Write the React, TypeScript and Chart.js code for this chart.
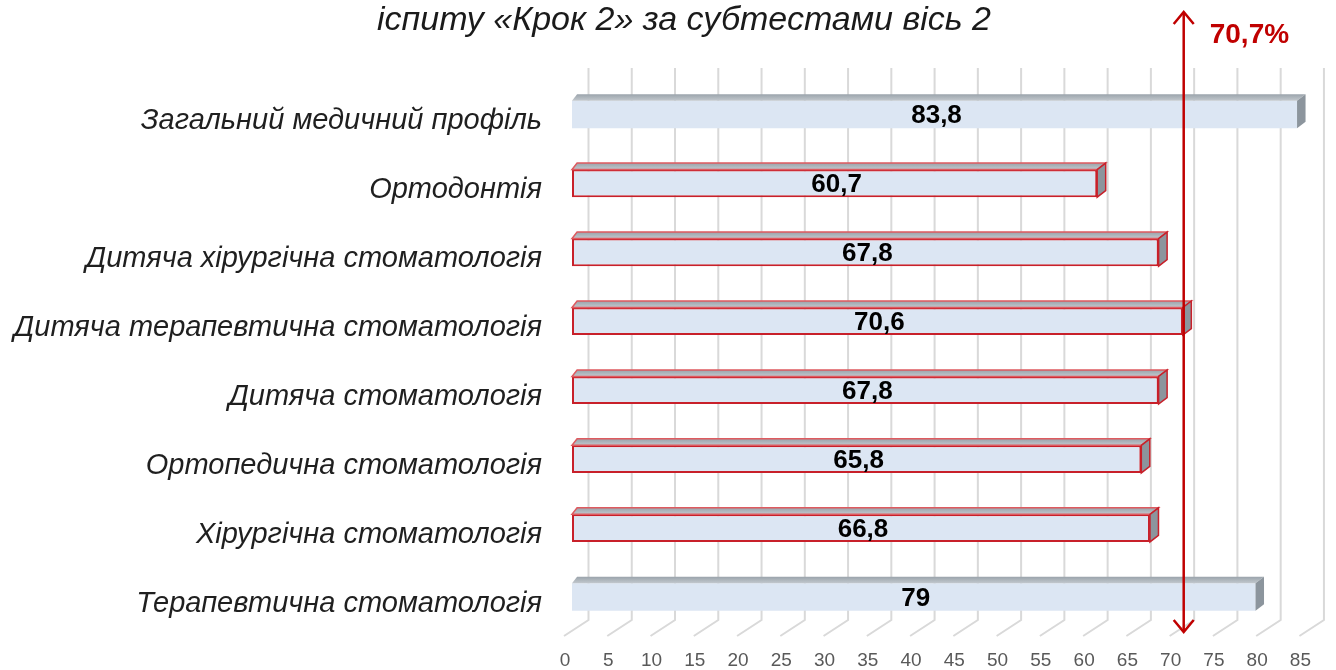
import React, { useEffect, useRef } from 'react';
import { Chart, registerables } from 'chart.js';

Chart.register(...registerables);

const titleText = 'іспиту «Крок 2» за субтестами вісь 2';
const categories = [
  'Загальний медичний профіль',
  'Ортодонтія',
  'Дитяча хірургічна стоматологія',
  'Дитяча терапевтична стоматологія',
  'Дитяча стоматологія',
  'Ортопедична стоматологія',
  'Хірургічна стоматологія',
  'Терапевтична стоматологія',
];
const values = [83.8, 60.7, 67.8, 70.6, 67.8, 65.8, 66.8, 79];
const highlighted = [false, true, true, true, true, true, true, false];
const averageValue = 70.7;
const averageLabel = '70,7%';
const xMin = 0;
const xMax = 85;
const xStep = 5;

const fmt = (v: number) => String(v).replace('.', ',');

const RED = '#c8202a';
const RED_LIGHT = '#de5a5f';
const DX = 8.5;
const DY = 6.5;
const SANS = '"Liberation Sans", Arial, sans-serif';

const threeDPlugin = {
  id: 'threeD',
  beforeDatasetsDraw(chart: any) {
    const ctx = chart.ctx;
    const xs = chart.scales.x;
    const area = chart.chartArea;
    ctx.save();
    ctx.strokeStyle = '#d9d9d9';
    ctx.lineWidth = 2;
    xs.ticks.forEach((t: any) => {
      const px = xs.getPixelForValue(t.value);
      ctx.beginPath();
      ctx.moveTo(px + 16.5, area.top - 12);
      ctx.lineTo(px + 16.5, area.bottom - 11.5);
      ctx.lineTo(px - 8, area.bottom + 4.5);
      ctx.stroke();
    });
    ctx.restore();
  },
  afterDatasetsDraw(chart: any) {
    const ctx = chart.ctx;
    const meta = chart.getDatasetMeta(0);
    const xs = chart.scales.x;
    const ys = chart.scales.y;
    const area = chart.chartArea;
    ctx.save();

    // category labels
    ctx.fillStyle = '#1f1f1f';
    ctx.font = 'italic 29px ' + SANS;
    ctx.textAlign = 'right';
    ctx.textBaseline = 'alphabetic';
    categories.forEach((c, i) => {
      ctx.fillText(c, area.left - 30, ys.getPixelForValue(i) + 15);
    });

    meta.data.forEach((bar: any, i: number) => {
      const p = bar.getProps(['x', 'y', 'base', 'height'], true);
      const x0 = p.base;
      const x1 = p.x;
      const top = p.y - p.height / 2;
      const bottom = p.y + p.height / 2;
      // top face
      const g = ctx.createLinearGradient(0, top - DY, 0, top);
      g.addColorStop(0, '#9aa3ab');
      g.addColorStop(1, '#c2c8cd');
      ctx.beginPath();
      ctx.moveTo(x0, top);
      ctx.lineTo(x1, top);
      ctx.lineTo(x1 + DX, top - DY);
      ctx.lineTo(x0 + DX * 0.6, top - DY);
      ctx.closePath();
      ctx.fillStyle = g;
      ctx.fill();
      if (highlighted[i]) {
        ctx.strokeStyle = RED_LIGHT;
        ctx.lineWidth = 1.5;
        ctx.stroke();
      }
      // side face
      ctx.beginPath();
      ctx.moveTo(x1, top);
      ctx.lineTo(x1 + DX, top - DY);
      ctx.lineTo(x1 + DX, bottom - DY);
      ctx.lineTo(x1, bottom);
      ctx.closePath();
      ctx.fillStyle = '#8c959d';
      ctx.fill();
      if (highlighted[i]) {
        ctx.strokeStyle = RED;
        ctx.lineWidth = 1.5;
        ctx.stroke();
      }
      // value label
      ctx.fillStyle = '#000000';
      ctx.font = 'bold 26px ' + SANS;
      ctx.textAlign = 'center';
      ctx.textBaseline = 'alphabetic';
      ctx.fillText(fmt(values[i]), (x0 + x1) / 2 + 2, p.y + 9);
    });

    // average arrow
    const ax = xs.getPixelForValue(averageValue);
    const yTop = 12;
    const yBot = area.bottom + 0.5;
    ctx.strokeStyle = '#c00000';
    ctx.lineWidth = 2.5;
    ctx.beginPath();
    ctx.moveTo(ax, yTop);
    ctx.lineTo(ax, yBot);
    ctx.stroke();
    ctx.beginPath();
    ctx.moveTo(ax - 10, yTop + 12);
    ctx.lineTo(ax, yTop);
    ctx.lineTo(ax + 10, yTop + 12);
    ctx.stroke();
    ctx.beginPath();
    ctx.moveTo(ax - 10, yBot - 12);
    ctx.lineTo(ax, yBot);
    ctx.lineTo(ax + 10, yBot - 12);
    ctx.stroke();
    ctx.fillStyle = '#c00000';
    ctx.font = 'bold 28px ' + SANS;
    ctx.textAlign = 'left';
    ctx.textBaseline = 'alphabetic';
    ctx.fillText(averageLabel, ax + 26, 43);

    // title
    ctx.fillStyle = '#1a1a1a';
    ctx.font = 'italic 34px ' + SANS;
    ctx.textAlign = 'center';
    ctx.fillText(titleText, 684, 30);
    ctx.restore();
  },
};

export default function App() {
  const ref = useRef<HTMLCanvasElement>(null);
  useEffect(() => {
    if (!ref.current) return;
    const chart = new Chart(ref.current, {
      type: 'bar',
      data: {
        labels: categories,
        datasets: [
          {
            data: values,
            backgroundColor: '#dce6f3',
            borderColor: highlighted.map((h) => (h ? RED : 'rgba(0,0,0,0)')),
            borderWidth: highlighted.map((h) => (h ? 2 : 0)),
            borderSkipped: false,
            barPercentage: 0.4,
            categoryPercentage: 1,
          },
        ],
      },
      options: {
        indexAxis: 'y',
        responsive: false,
        animation: false,
        layout: { padding: { top: 80, right: 21.5, left: 0, bottom: 0 } },
        plugins: {
          legend: { display: false },
          title: { display: false },
          tooltip: { enabled: false },
        },
        scales: {
          x: {
            min: xMin,
            max: xMax,
            grid: { display: false, drawTicks: false },
            border: { display: false },
            ticks: {
              stepSize: xStep,
              color: '#595959',
              padding: 18,
              labelOffset: -7,
              font: { family: '"Liberation Sans Narrow", "Arial Narrow", "Liberation Sans", sans-serif', size: 19 },
            },
            afterFit: (s: any) => {
              s.height = 38.5;
            },
          },
          y: {
            grid: { display: false, drawTicks: false },
            border: { display: false },
            ticks: { display: false },
            afterFit: (s: any) => {
              s.width = 572;
            },
          },
        },
      },
      plugins: [threeDPlugin],
    });
    return () => chart.destroy();
  }, []);
  return (
    <div style={{ position: 'fixed', left: 0, top: 0, width: 1336, height: 670, background: '#ffffff' }}>
      <canvas ref={ref} width={1336} height={670} style={{ display: 'block' }} />
    </div>
  );
}
